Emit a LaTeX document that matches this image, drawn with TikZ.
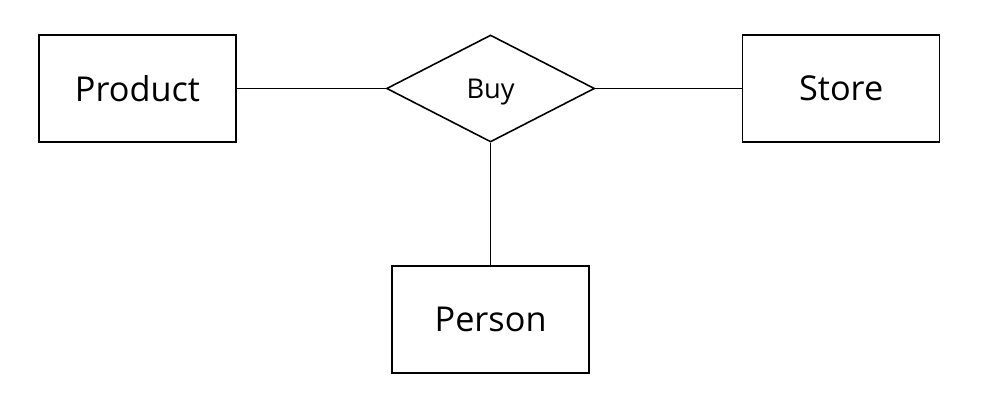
\documentclass[tikz,border=0pt]{standalone}
\usepackage{fontspec}
\setmainfont{Open Sans}
\usepackage{tikz}
\usetikzlibrary{shapes.geometric,positioning}

\begin{document}
\begin{tikzpicture}[
    entity/.style={rectangle,draw,line width=0.9pt,minimum width=3.94cm,minimum height=2.14cm,inner sep=0pt,font=\fontsize{19.5}{22}\selectfont},
    relation/.style={diamond,draw,line width=0.9pt,minimum width=4.16cm,minimum height=2.14cm,inner sep=0pt,text depth=0pt,font=\fontsize{15.5}{18}\selectfont}]
    \useasboundingbox (0,0) rectangle (20,8.06);
    \node[entity] (product) at (2.75,6.29) {Product};
    \node[relation] (buy) [right=2.98cm of product] {Buy};
    \node[entity] (store) [right=2.93cm of buy] {Store};
    \node[entity] (person) [below=2.45cm of buy] {Person};

    \path[line width=0.9pt] (product) edge (buy)
                            (buy) edge (store)
                            (buy) edge (person);
\end{tikzpicture}
\end{document}
